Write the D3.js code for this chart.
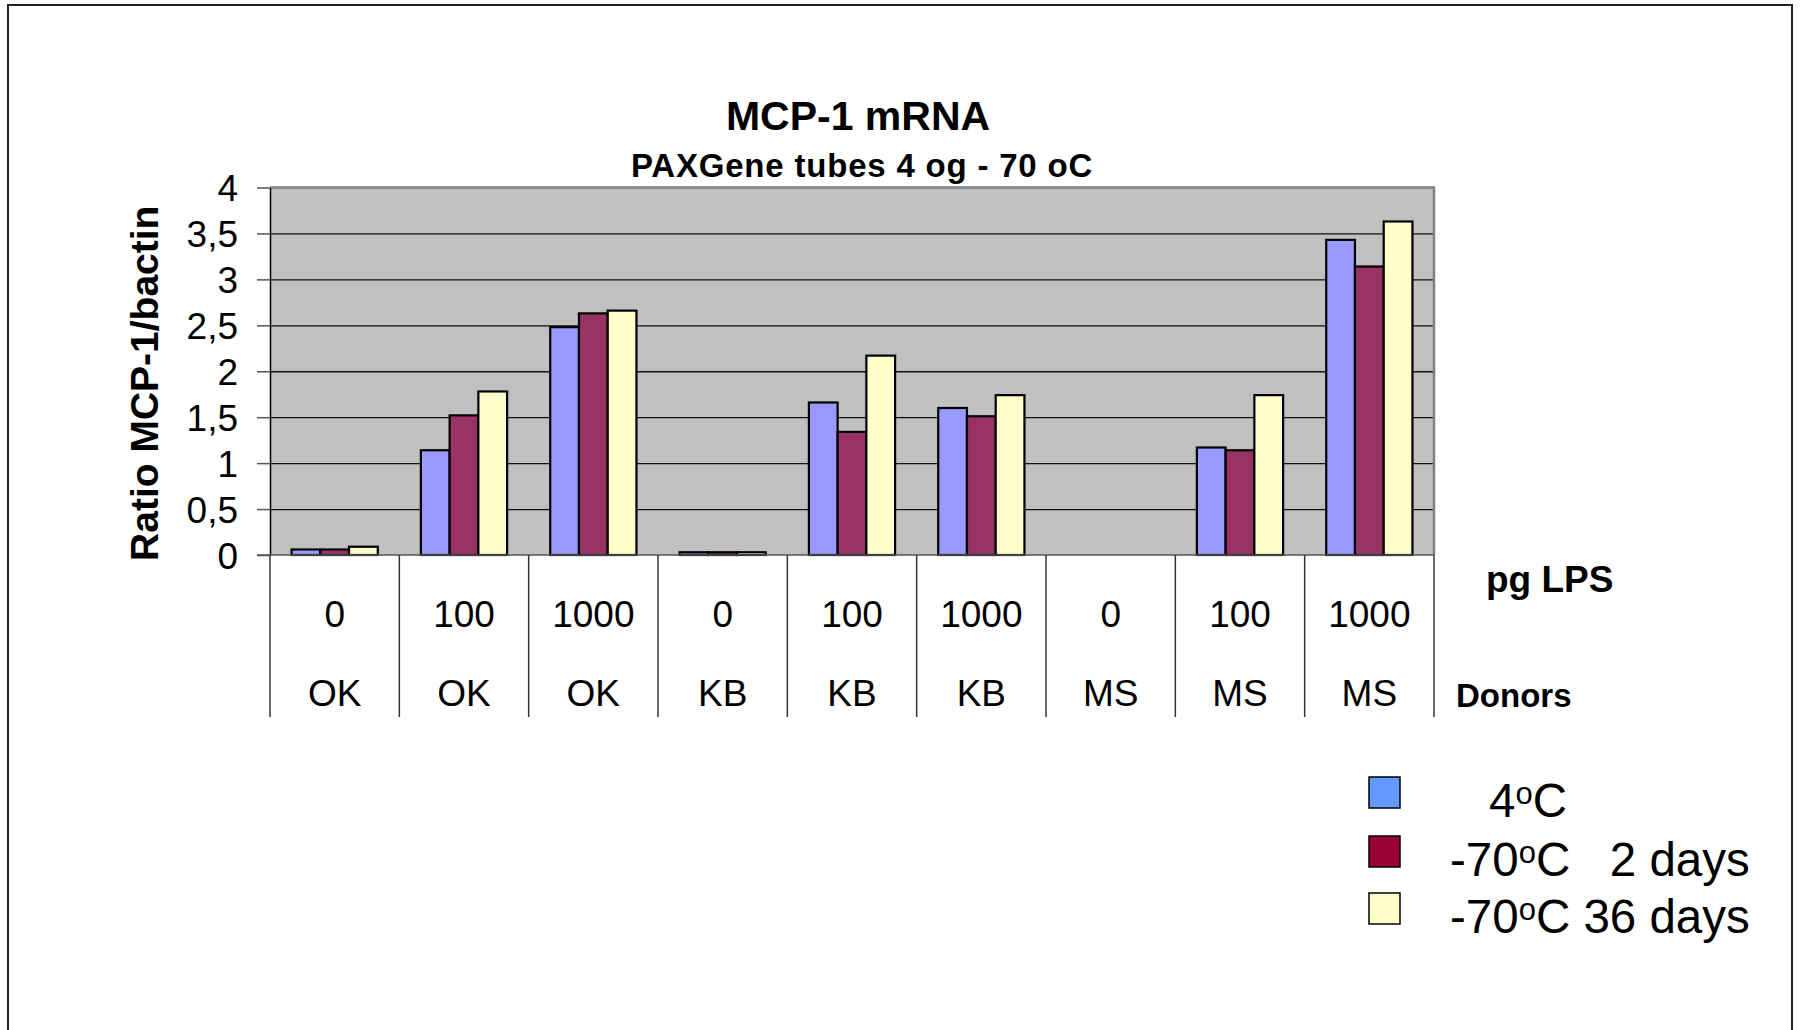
<!DOCTYPE html>
<html>
<head>
<meta charset="utf-8">
<script src="https://cdn.jsdelivr.net/npm/d3@7"></script>
<style>
  html, body { margin: 0; padding: 0; background: #fff; }
  svg { display: block; font-family: "Liberation Sans", Arial, sans-serif; }
  text { white-space: pre; }
</style>
</head>
<body>
<svg id="chart" width="1801" height="1030"></svg>
<script>
// ---- data ----
const lpsLabels   = ["0", "100", "1000", "0", "100", "1000", "0", "100", "1000"];
const donorLabels = ["OK", "OK", "OK", "KB", "KB", "KB", "MS", "MS", "MS"];
const seriesNames = ["4oC", "-70oC 2 days", "-70oC 36 days"];
const values4C      = [0.06, 1.14, 2.48, 0.03, 1.66, 1.60, 0, 1.17, 3.43];
const values70_2d   = [0.06, 1.52, 2.63, 0.03, 1.34, 1.51, 0, 1.14, 3.14];
const values70_36d  = [0.09, 1.78, 2.66, 0.03, 2.17, 1.74, 0, 1.74, 3.63];
const yTicks = [0, 0.5, 1, 1.5, 2, 2.5, 3, 3.5, 4];
const barColors    = ["#9999FF", "#993366", "#FFFFCC"];
const legendColors = ["#6699FF", "#990033", "#FFFFCC"];

const seriesValues = [values4C, values70_2d, values70_36d];

// ---- layout ----
const svg = d3.select("#chart");
const plot = { left: 270, right: 1434, top: 187.5, bottom: 555 };

// outer frame
svg.append("rect")
  .attr("x", 8).attr("y", 5).attr("width", 1784).attr("height", 1060)
  .attr("fill", "none").attr("stroke", "#222").attr("stroke-width", 2);

const cats = d3.range(lpsLabels.length);
const x0 = d3.scaleBand().domain(cats).range([plot.left, plot.right]).padding(0);
const x1 = d3.scaleBand().domain(d3.range(seriesValues.length))
  .range([0, x0.bandwidth()]).paddingInner(0).paddingOuter(0.75);
const y = d3.scaleLinear().domain([0, 4]).range([plot.bottom, plot.top]);

// plot background
svg.append("rect")
  .attr("x", plot.left).attr("y", plot.top)
  .attr("width", plot.right - plot.left).attr("height", plot.bottom - plot.top)
  .attr("fill", "#C0C0C0");

// gridlines
const grid = svg.append("g").attr("transform", `translate(${plot.left},0)`)
  .call(d3.axisLeft(y).tickValues(yTicks.filter(d => d > 0 && d < 4))
    .tickSize(-(plot.right - plot.left)).tickFormat(""));
grid.select(".domain").remove();
grid.selectAll("line").attr("stroke", "#111").attr("stroke-width", 1.3);

// top & right border of plot (gray)
svg.append("path")
  .attr("d", `M${plot.left},${plot.top}H${plot.right}V${plot.bottom}`)
  .attr("fill", "none").attr("stroke", "#808080").attr("stroke-width", 2.5);

// bars
const groups = svg.append("g").selectAll("g")
  .data(seriesValues).join("g");
groups.selectAll("rect")
  .data((vals, si) => vals.map((v, ci) => ({ v, ci, si })))
  .join("rect")
  .attr("x", d => x0(d.ci) + x1(d.si))
  .attr("y", d => y(d.v))
  .attr("width", x1.bandwidth())
  .attr("height", d => y(0) - y(d.v))
  .attr("fill", d => barColors[d.si])
  .attr("stroke", "#000")
  .attr("stroke-width", 2.2);

// y axis
const yAxis = svg.append("g").attr("transform", `translate(${plot.left},0)`)
  .call(d3.axisLeft(y).tickValues(yTicks)
    .tickFormat(d => String(d).replace(".", ","))
    .tickSize(13).tickSizeOuter(0).tickPadding(19));
yAxis.select(".domain").attr("stroke", "#000").attr("stroke-width", 1.5);
yAxis.selectAll(".tick line").attr("stroke", "#555").attr("stroke-width", 1.5);
yAxis.selectAll("text")
  .attr("font-size", 37).attr("fill", "#000")
  .attr("font-family", "'Liberation Sans', Arial, sans-serif")
  .attr("dy", "0.36em");

// x axis baseline
svg.append("line")
  .attr("x1", 257).attr("x2", plot.right)
  .attr("y1", y(0)).attr("y2", y(0))
  .attr("stroke", "#555").attr("stroke-width", 1.5);

// category dividers
const bounds = cats.map(c => x0(c)).concat([x0(cats[cats.length - 1]) + x0.bandwidth()]);
svg.append("g").selectAll("line").data(bounds).join("line")
  .attr("x1", d => d).attr("x2", d => d)
  .attr("y1", y(0)).attr("y2", 717)
  .attr("stroke", "#333").attr("stroke-width", 1.5);

// category labels
svg.append("g").selectAll("text").data(lpsLabels).join("text")
  .attr("x", (d, i) => x0(i) + x0.bandwidth() / 2)
  .attr("y", 627)
  .attr("text-anchor", "middle").attr("font-size", 37)
  .text(d => d);
svg.append("g").selectAll("text").data(donorLabels).join("text")
  .attr("x", (d, i) => x0(i) + x0.bandwidth() / 2)
  .attr("y", 706)
  .attr("text-anchor", "middle").attr("font-size", 37)
  .text(d => d);

// axis side labels
svg.append("text").attr("x", 1486).attr("y", 592)
  .attr("font-size", 37).attr("font-weight", "bold").text("pg LPS");
svg.append("text").attr("x", 1456).attr("y", 707)
  .attr("font-size", 33).attr("font-weight", "bold").text("Donors");

// titles
svg.append("text").attr("x", 858).attr("y", 130)
  .attr("text-anchor", "middle").attr("font-size", 41).attr("font-weight", "bold")
  .text("MCP-1 mRNA");
svg.append("text").attr("x", 862).attr("y", 177)
  .attr("text-anchor", "middle").attr("font-size", 33).attr("font-weight", "bold")
  .attr("letter-spacing", 0.8)
  .text("PAXGene tubes 4 og - 70 oC");

// y axis title
svg.append("text")
  .attr("transform", `translate(158,${(plot.top + plot.bottom) / 2 + 12}) rotate(-90)`)
  .attr("text-anchor", "middle").attr("font-size", 39).attr("font-weight", "bold")
  .text("Ratio MCP-1/bactin");

// legend
const legendRows = [
  { base: "4", post: "C", tail: "", x: 1489, y: 817 },
  { base: "-70", post: "C", tail: "   2 days", x: 1450, y: 876 },
  { base: "-70", post: "C", tail: " 36 days", x: 1450, y: 933 }
];
const leg = svg.append("g");
legendRows.forEach((r, i) => {
  leg.append("rect")
    .attr("x", 1369).attr("y", r.y - 40).attr("width", 31).attr("height", 31)
    .attr("fill", legendColors[i]).attr("stroke", "#000").attr("stroke-width", 1.5);
  const t = leg.append("text").attr("x", r.x).attr("y", r.y).attr("font-size", 47.5);
  t.append("tspan").text(r.base);
  t.append("tspan").attr("font-size", 31).attr("dy", -13).text("o");
  t.append("tspan").attr("dy", 13).text(r.post + r.tail);
});
</script>
</body>
</html>
